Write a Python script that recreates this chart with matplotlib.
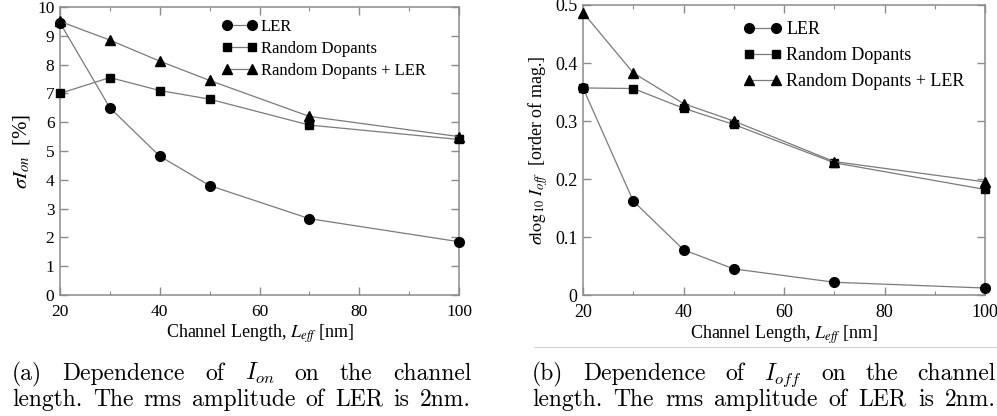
import numpy as np
import matplotlib.pyplot as plt
from matplotlib.ticker import MultipleLocator, FuncFormatter
from matplotlib.lines import Line2D

# --- Datos ---
L_eff = [20, 30, 40, 50, 70, 100]

ion_ler = [9.45, 6.5, 4.82, 3.8, 2.65, 1.85]
ion_rd = [7.0, 7.55, 7.1, 6.8, 5.9, 5.4]
ion_rd_ler = [9.5, 8.85, 8.12, 7.45, 6.2, 5.5]

ioff_ler = [0.357, 0.162, 0.078, 0.045, 0.022, 0.012]
ioff_rd = [0.357, 0.356, 0.322, 0.294, 0.228, 0.182]
ioff_rd_ler = [0.487, 0.383, 0.33, 0.3, 0.23, 0.195]

series_labels = ["LER", "Random Dopants", "Random Dopants + LER"]
markers = ["o", "s", "^"]
msizes = [7, 6, 6.5]

W, H = 997, 416
LINE = "#7a7a7a"
SPINE = "#8c8c8c"
SERIF = "Liberation Serif"

fig = plt.figure(figsize=(W / 100, H / 100), dpi=100)


def px_axes(x0, x1, ytop, ybot):
    return fig.add_axes([x0 / W, 1 - ybot / H, (x1 - x0) / W, (ybot - ytop) / H])


def style_axes(ax, fs):
    for s in ax.spines.values():
        s.set_color(SPINE)
        s.set_linewidth(1.1)
    ax.tick_params(which="both", direction="in", top=True, right=True,
                   color=SPINE, labelsize=fs, pad=4)
    ax.tick_params(axis="x", pad=6.5)
    ax.tick_params(which="major", length=6, width=1)
    ax.tick_params(which="minor", length=3, width=0.8)
    for lab in ax.get_xticklabels() + ax.get_yticklabels():
        lab.set_fontfamily(SERIF)
    ax.set_xlim(20, 100)
    ax.xaxis.set_major_locator(MultipleLocator(20))
    ax.xaxis.set_minor_locator(MultipleLocator(10))


def draw(ax, data, legend_fs, anchor, spacing):
    for ys, m, ms, lab in zip(data, markers, msizes, series_labels):
        ax.plot(L_eff, ys, color=LINE, lw=0.9, marker=m, ms=ms,
                mfc="black", mec="black", label=lab, clip_on=False, zorder=3)
    ax.legend(loc="upper left", bbox_to_anchor=anchor, frameon=False,
              prop={"family": SERIF, "size": legend_fs}, numpoints=2,
              handlelength=2.1, handletextpad=0.25, borderpad=0,
              borderaxespad=0, labelspacing=spacing)


# --- (a) I_on ---
ax1 = px_axes(60, 459, 7, 295)
draw(ax1, [ion_ler, ion_rd, ion_rd_ler], 12, (0.405, 0.96), 0.38)
ax1.set_ylim(0, 10)
ax1.yaxis.set_major_locator(MultipleLocator(1))
style_axes(ax1, 12.5)
ax1.set_xlabel(r"Channel Length, $L_{eff}$ [nm]", fontfamily=SERIF,
               fontsize=13, math_fontfamily="stix", labelpad=2)
ax1.set_ylabel(r"$\sigma I_{on}$  [%]", fontfamily=SERIF, fontsize=15,
               math_fontfamily="stix", labelpad=4)

# --- (b) I_off ---
ax2 = px_axes(583, 985, 5, 295)
draw(ax2, [ioff_ler, ioff_rd, ioff_rd_ler], 13, (0.40, 0.945), 0.5)
ax2.set_ylim(0, 0.5)
ax2.yaxis.set_major_locator(MultipleLocator(0.1))
ax2.yaxis.set_major_formatter(FuncFormatter(lambda v, p: "0" if abs(v) < 1e-9 else f"{v:.1f}"))
style_axes(ax2, 13)
ax2.set_xlabel(r"Channel Length, $L_{eff}$ [nm]", fontfamily=SERIF,
               fontsize=13, math_fontfamily="stix", labelpad=2)
ax2.set_ylabel(r"$\sigma\mathrm{log}_{10}\ I_{off}$  [order of mag.]",
               fontfamily=SERIF, fontsize=13, math_fontfamily="stix", labelpad=4)

# línea fina bajo la etiqueta del panel (b)
fig.add_artist(Line2D([534 / W, 1], [1 - 347 / H] * 2, color="#d0d0d0", lw=0.8))

# --- Pies de figura justificados ---
renderer = fig.canvas.get_renderer()


def justify(words, x0, x1, y):
    texts = [fig.text(0, 1 - y / H, w, fontfamily="cmr10", math_fontfamily="cm",
                      fontsize=17, va="baseline", ha="left") for w in words]
    widths = [t.get_window_extent(renderer).width for t in texts]
    gap = (x1 - x0 - sum(widths)) / (len(words) - 1)
    x = x0
    for t, w in zip(texts, widths):
        t.set_x(x / W)
        x += w + gap


line2 = "length. The rms amplitude of LER is 2nm.".split()
justify(["(a)", "Dependence", "of", r"$I_{on}$", "on", "the", "channel"], 12, 471, 380)
justify(line2, 12, 471, 406)
justify(["(b)", "Dependence", "of", r"$I_{off}$", "on", "the", "channel"], 532, 996, 380)
justify(line2, 532, 996, 406)

plt.savefig("out.png", dpi=100)
